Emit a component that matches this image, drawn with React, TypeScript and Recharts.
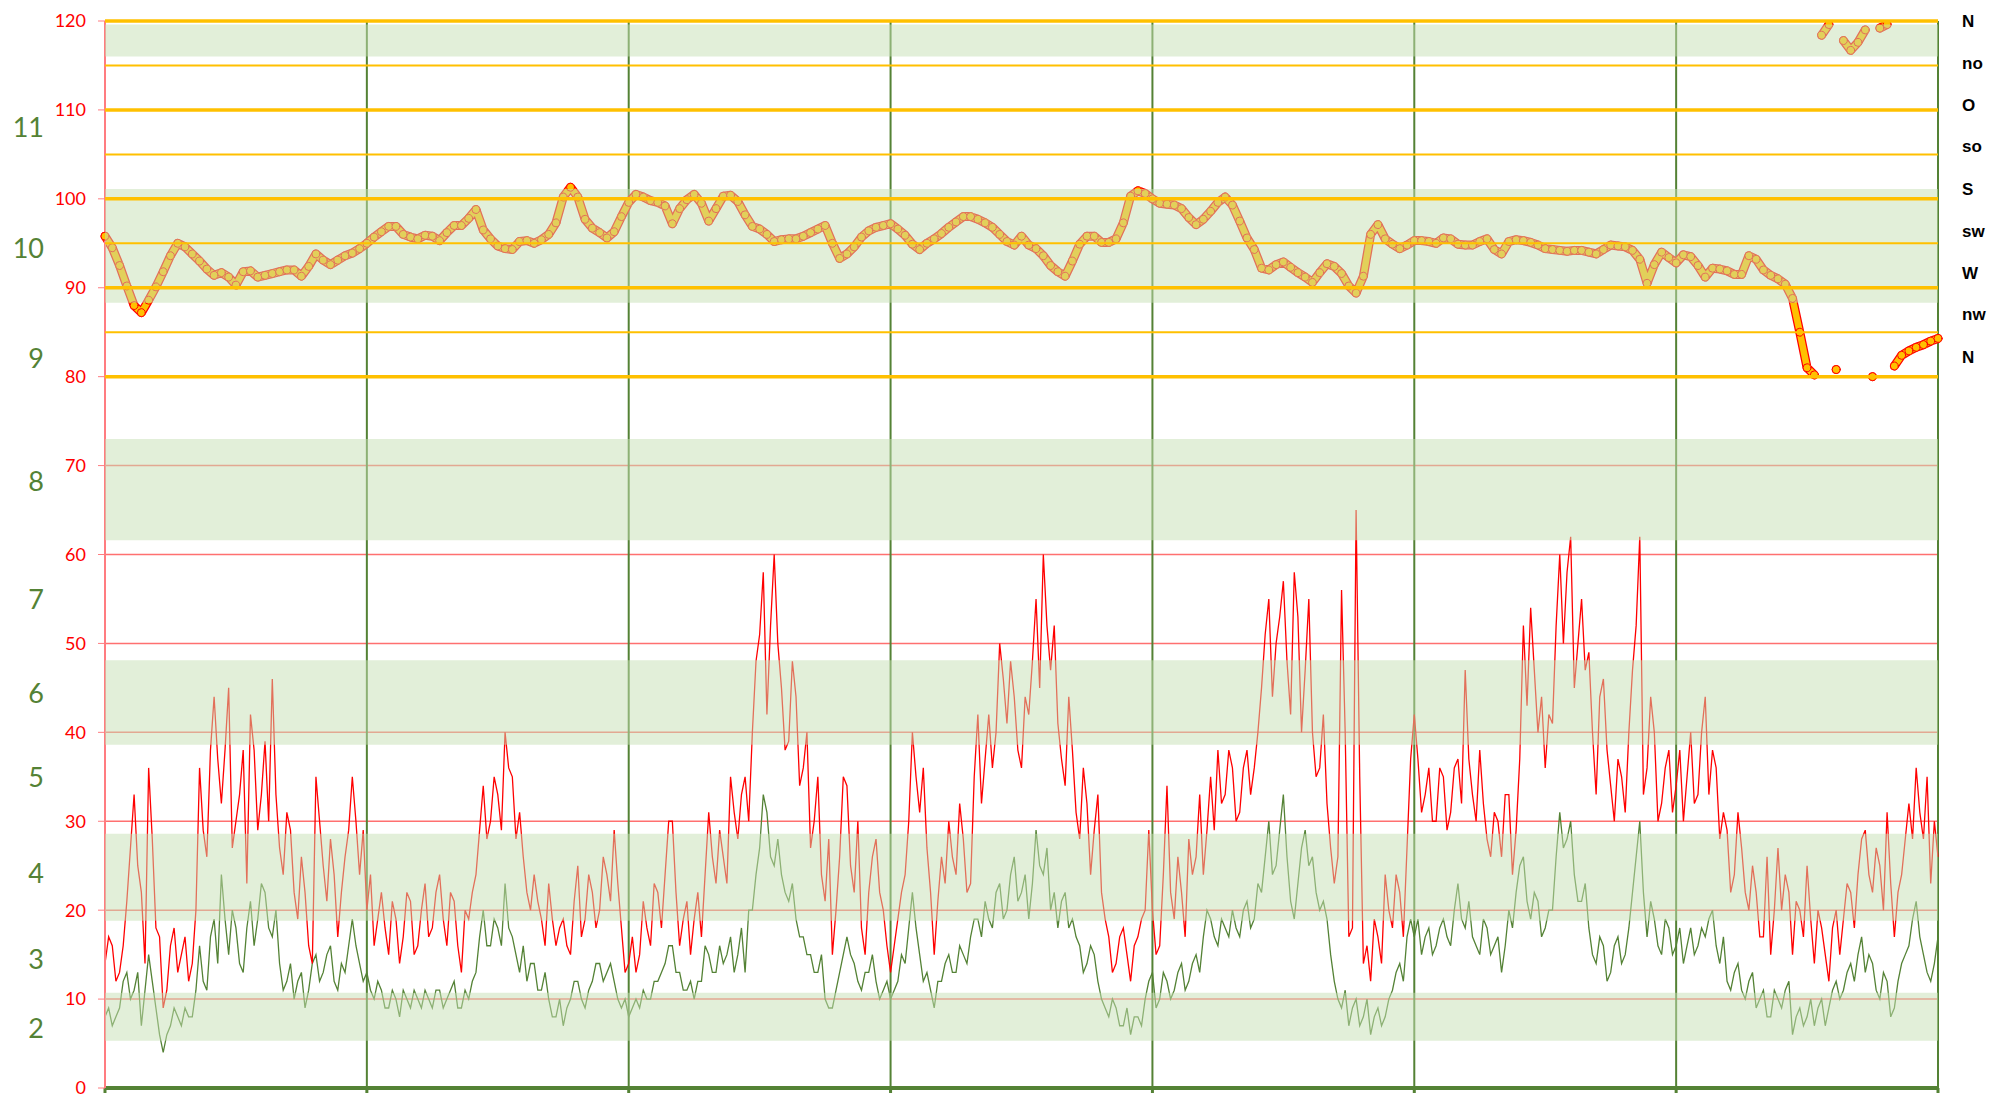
import { LineChart, Line, XAxis, YAxis, CartesianGrid, ReferenceArea, ReferenceLine } from "recharts";

// readings every 40 minutes (36 per day, 7 days) plus the readings between them
const days = [0, 1, 2, 3, 4, 5, 6, 7];

// gusts km/h at the full 40-minute marks
const gust = [
  14, 16, 13, 21, 33, 22, 36, 18, 9, 16, 13, 17, 14, 36, 26, 44, 32, 45, 30, 38, 42, 29, 39, 46, 27, 31, 22, 26, 16, 35, 25, 28, 17, 26, 35, 24,
  20, 16, 22, 15, 19, 17, 21, 16, 23, 18, 24, 16, 21, 13, 19, 24, 34, 30, 33, 40, 35, 31, 22, 24, 19, 23, 16, 19, 15, 25, 19, 22, 20, 24, 29, 18,
  14, 13, 21, 16, 22, 24, 30, 16, 21, 19, 17, 31, 23, 26, 35, 28, 35, 40, 51, 42, 60, 45, 39, 44, 36, 27, 35, 21, 15, 26, 34, 22, 18, 22, 28, 20,
  13, 19, 24, 40, 31, 27, 15, 26, 30, 24, 28, 23, 42, 37, 36, 50, 41, 44, 36, 42, 55, 60, 47, 41, 34, 38, 28, 32, 29, 22, 17, 14, 18, 12, 17, 20,
  20, 16, 34, 19, 22, 28, 26, 24, 35, 38, 33, 36, 31, 38, 36, 45, 55, 50, 57, 42, 53, 47, 40, 36, 32, 23, 56, 17, 65, 14, 12, 17, 24, 18, 22, 27,
  42, 31, 36, 30, 35, 31, 37, 47, 33, 38, 28, 31, 26, 33, 29, 52, 54, 40, 36, 41, 60, 58, 45, 55, 49, 33, 46, 34, 37, 31, 47, 62, 36, 40, 32, 38,
  34, 30, 40, 33, 44, 38, 28, 29, 24, 27, 20, 22, 17, 15, 27, 24, 15, 20, 25, 14, 18, 12, 20, 19, 22, 24, 29, 22, 25, 31, 17, 24, 32, 36, 28, 23, 26,
];

// gusts km/h 20 minutes after each mark
const gustMid = [
  17, 12, 16, 27, 25, 14, 28, 17, 11, 18, 15, 12, 20, 29, 38, 37, 38, 27, 33, 23, 38, 33, 30, 33, 24, 29, 19, 22, 14, 30, 21, 24, 22, 29, 30, 29,
  24, 19, 18, 21, 14, 22, 15, 20, 17, 22, 19, 22, 16, 20, 22, 29, 28, 35, 29, 36, 28, 26, 20, 21, 16, 19, 18, 16, 21, 17, 24, 18, 26, 21, 23, 13,
  17, 15, 18, 23, 18, 30, 22, 19, 15, 22, 24, 26, 29, 23, 31, 33, 30, 48, 58, 52, 50, 38, 48, 34, 40, 30, 24, 28, 20, 35, 25, 30, 15, 26, 22, 16,
  16, 22, 30, 35, 36, 22, 21, 23, 26, 32, 22, 35, 32, 42, 40, 46, 48, 38, 44, 48, 45, 52, 52, 37, 44, 31, 36, 24, 33, 19, 13, 17, 15, 16, 19, 29,
  15, 24, 22, 26, 17, 24, 33, 29, 29, 32, 38, 30, 36, 33, 40, 51, 44, 53, 48, 58, 40, 55, 35, 42, 27, 26, 40, 18, 35, 16, 19, 14, 20, 24, 17, 37,
  37, 33, 30, 36, 29, 36, 32, 37, 30, 32, 26, 30, 33, 24, 37, 43, 47, 44, 42, 52, 50, 62, 50, 47, 40, 44, 38, 30, 35, 40, 52, 33, 44, 30, 36, 31,
  38, 35, 32, 40, 33, 36, 31, 22, 31, 22, 25, 17, 26, 20, 20, 22, 21, 17, 19, 20, 15, 18, 15, 23, 18, 28, 24, 27, 20, 23, 22, 28, 28, 31, 35, 30,
];

// mean wind km/h at the full 40-minute marks
const wind = [
  8, 7, 9, 13, 11, 7, 15, 9, 4, 7, 8, 9, 8, 16, 11, 19, 24, 15, 18, 13, 21, 19, 22, 17, 14, 12, 10, 13, 11, 15, 13, 16, 11, 13, 19, 14,
  13, 10, 11, 9, 10, 11, 9, 10, 11, 9, 11, 10, 12, 9, 10, 13, 20, 16, 18, 23, 17, 13, 12, 14, 11, 10, 8, 7, 10, 12, 9, 12, 14, 13, 12, 9,
  8, 10, 11, 10, 12, 14, 16, 13, 11, 10, 12, 15, 13, 14, 17, 15, 13, 20, 27, 31, 25, 24, 21, 19, 17, 15, 13, 10, 9, 13, 17, 14, 11, 13, 12, 11,
  10, 12, 14, 22, 15, 13, 9, 12, 15, 13, 15, 17, 19, 21, 18, 23, 20, 26, 22, 19, 29, 24, 20, 18, 22, 19, 16, 14, 15, 10, 8, 9, 7, 6, 8, 10,
  13, 10, 12, 11, 14, 12, 15, 17, 19, 16, 18, 20, 17, 21, 19, 22, 30, 25, 33, 21, 23, 29, 26, 20, 19, 12, 9, 7, 10, 8, 6, 9, 8, 11, 14, 17,
  17, 15, 18, 16, 19, 16, 23, 18, 17, 15, 18, 16, 13, 20, 22, 26, 19, 21, 18, 20, 31, 28, 24, 21, 18, 14, 16, 13, 17, 15, 22, 30, 17, 19, 15, 18,
  16, 14, 18, 16, 17, 20, 14, 12, 13, 11, 12, 9, 11, 8, 10, 11, 6, 9, 8, 7, 10, 9, 12, 11, 14, 15, 13, 14, 10, 12, 9, 14, 16, 21, 15, 12, 17,
];

// mean wind km/h 20 minutes after each mark
const windMid = [
  9, 8, 12, 10, 13, 11, 12, 6, 6, 9, 7, 8, 11, 12, 17, 14, 19, 20, 14, 18, 16, 23, 18, 20, 11, 14, 12, 9, 14, 12, 15, 12, 14, 16, 16, 12,
  11, 12, 9, 11, 8, 10, 11, 9, 10, 11, 9, 11, 9, 11, 12, 17, 16, 19, 16, 18, 15, 16, 14, 11, 13, 8, 10, 9, 12, 10, 11, 14, 12, 14, 10, 10,
  9, 9, 10, 12, 13, 16, 13, 11, 12, 12, 16, 13, 16, 15, 13, 18, 20, 24, 33, 26, 28, 22, 23, 17, 15, 13, 15, 9, 11, 15, 15, 12, 13, 15, 10, 12,
  11, 15, 18, 18, 12, 11, 12, 14, 13, 16, 14, 19, 17, 19, 22, 19, 24, 21, 24, 23, 25, 27, 22, 21, 18, 17, 13, 16, 12, 9, 10, 7, 9, 8, 7, 12,
  9, 13, 10, 13, 11, 14, 13, 20, 17, 19, 17, 18, 20, 18, 23, 26, 24, 29, 26, 19, 27, 25, 22, 21, 15, 10, 11, 9, 7, 10, 8, 7, 10, 13, 12, 19,
  19, 17, 15, 18, 17, 20, 19, 21, 16, 19, 15, 17, 16, 18, 25, 21, 22, 17, 20, 26, 27, 30, 21, 23, 15, 17, 12, 16, 14, 18, 26, 22, 21, 16, 19, 15,
  18, 16, 15, 18, 19, 16, 17, 11, 14, 10, 13, 10, 8, 11, 9, 12, 8, 7, 10, 9, 7, 11, 10, 13, 12, 17, 15, 11, 13, 8, 12, 15, 19, 17, 13, 14,
];

// wind direction as position on the compass scale (80 = N, 90 = W, 100 = S, 110 = O, 120 = N), every 40 minutes
const dirPos = [
  95.8, 94.5, 92.5, 90.2, 88.0, 87.2, 88.6, 90.1, 91.8, 93.6,
  95.0, 94.6, 93.8, 93.0, 92.1, 91.4, 91.7, 91.2, 90.3, 91.8,
  91.9, 91.2, 91.4, 91.6, 91.8, 92.0, 92.0, 91.3, 92.4, 93.8,
  93.1, 92.6, 93.1, 93.6, 93.9, 94.4, 95.0, 95.7, 96.3, 96.9,
  96.9, 96.0, 95.7, 95.5, 95.9, 95.8, 95.3, 96.2, 97.0, 97.0,
  97.8, 98.8, 96.5, 95.5, 94.7, 94.4, 94.3, 95.2, 95.3, 95.0,
  95.4, 96.0, 97.3, 100.2, 101.3, 100.2, 97.7, 96.7, 96.2, 95.6,
  96.3, 98.0, 99.6, 100.5, 100.2, 99.8, 99.6, 99.2, 97.2, 98.9,
  99.9, 100.5, 99.5, 97.5, 98.9, 100.3, 100.4, 99.7, 98.2, 96.9,
  96.6, 96.0, 95.2, 95.4, 95.5, 95.5, 95.8, 96.2, 96.6, 97.0,
  95.0, 93.3, 93.8, 94.6, 95.7, 96.4, 96.8, 97.0, 97.2, 96.6,
  95.9, 94.9, 94.3, 95.0, 95.5, 96.1, 96.8, 97.4, 98.0, 98.0,
  97.7, 97.3, 96.8, 96.0, 95.2, 94.8, 95.8, 94.8, 94.4, 93.6,
  92.5, 91.8, 91.3, 93.0, 94.9, 95.8, 95.8, 95.1, 95.1, 95.5,
  97.3, 100.3, 100.9, 100.6, 100.0, 99.5, 99.4, 99.3, 98.9, 97.9,
  97.1, 97.7, 98.6, 99.6, 100.2, 99.3, 97.5, 95.6, 94.3, 92.2,
  92.0, 92.6, 92.9, 92.3, 91.7, 91.2, 90.6, 91.7, 92.7, 92.4,
  91.6, 90.2, 89.4, 91.3, 96.0, 97.1, 95.5, 94.9, 94.4, 94.8,
  95.3, 95.3, 95.2, 95.0, 95.6, 95.5, 94.9, 94.8, 94.8, 95.2,
  95.5, 94.3, 93.8, 95.2, 95.4, 95.3, 95.1, 94.8, 94.4, 94.3,
  94.2, 94.1, 94.2, 94.2, 94.0, 93.8, 94.3, 94.8, 94.7, 94.6,
  94.2, 93.2, 90.5, 92.6, 94.0, 93.4, 92.8, 93.7, 93.5, 92.5,
  91.2, 92.2, 92.1, 91.9, 91.5, 91.5, 93.6, 93.2, 92.0, 91.4,
  91.0, 90.4, 88.8, 85.0, 81.0, 80.2, 118.4, 119.6, 80.8, 117.8,
  116.7, 117.6, 119.0, 80.0, 119.2, 119.6, 81.2, 82.4, 82.9, 83.3,
  83.6, 84.0, 84.3,
];

const speedTicks = [0, 10, 20, 30, 40, 50, 60, 70, 80, 90, 100, 110, 120];

const beaufortLabels = ["2", "3", "4", "5", "6", "7", "8", "9", "10", "11"];
const beaufortPos = [6.75, 14.5, 24.1, 34.9, 44.4, 55.0, 68.2, 82.0, 94.4, 108.0];

const compassLabels = ["N", "no", "O", "so", "S", "sw", "W", "nw", "N"];
const compassPos = [120.0, 115.3, 110.6, 105.9, 101.1, 96.4, 91.7, 87.0, 82.2];

// light green Beaufort bands (2, 4, 6, 8, 10, 12)
const bandLow = [5.3, 18.8, 38.6, 61.6, 88.3, 116.0];
const bandHigh = [10.7, 28.6, 48.1, 73.0, 101.1, 119.6];

const dirMajor = [80, 90, 100, 110, 120];
const dirMinor = [85, 95, 105, 115];

const speedData: { t: number; gust: number; wind: number }[] = [];
gust.forEach((g, i) => {
  speedData.push({ t: i / 36, gust: g, wind: wind[i] });
  if (i < gustMid.length) speedData.push({ t: (i + 0.5) / 36, gust: gustMid[i], wind: windMid[i] });
});

// split direction where it wraps around north so no line crosses the chart
const dirData = dirPos.map((d, i) => ({
  t: i / 36,
  dirLow: d < 110 ? d : null,
  dirHigh: d >= 110 ? d : null,
}));

const SpeedTick = (props: any) => (
  <text x={78} y={props.y} dy="0.355em" textAnchor="end" fill="#FF0000" fontSize={18} fontFamily="Lato">
    {props.payload.value}
  </text>
);

const CompassTick = (props: any) => (
  <text x={1954} y={props.y} dy="0.355em" textAnchor="start" fill="#000000" fontSize={17} fontWeight={700} fontFamily="Liberation Sans">
    {compassLabels[props.index]}
  </text>
);

const dirDot = { r: 4, fill: "#FFC000", stroke: "#FF0000", strokeWidth: 1 };

export default function App() {
  return (
    <LineChart width={1983} height={1088} data={speedData} margin={{ top: 13, right: 0, left: 0, bottom: 0 }}>
      <CartesianGrid yAxisId="main" vertical={false} stroke="#FF7070" strokeWidth={1.5} />
      <CartesianGrid yAxisId="main" horizontal={false} stroke="#548235" strokeWidth={2} />
      <XAxis
        dataKey="t"
        type="number"
        domain={[0, 7]}
        ticks={days}
        height={8}
        tickSize={5}
        tickFormatter={() => ""}
        axisLine={{ stroke: "#548235", strokeWidth: 4 }}
        tickLine={{ stroke: "#548235", strokeWidth: 3 }}
      />
      <YAxis
        yAxisId="main"
        domain={[0, 120]}
        ticks={speedTicks}
        interval={0}
        width={97}
        tickSize={7}
        axisLine={{ stroke: "#FF7C80", strokeWidth: 2 }}
        tickLine={{ stroke: "#FF7C80" }}
        tick={<SpeedTick />}
      />
      <YAxis
        yAxisId="compass"
        orientation="right"
        domain={[0, 120]}
        ticks={compassPos}
        interval={0}
        width={53}
        tickSize={0}
        axisLine={false}
        tickLine={false}
        tick={<CompassTick />}
      />
      <Line yAxisId="compass" dataKey="wind" stroke="none" dot={false} activeDot={false} isAnimationActive={false} />
      <Line yAxisId="main" type="linear" dataKey="wind" stroke="#548235" strokeWidth={1.3} dot={false} activeDot={false} isAnimationActive={false} />
      <Line yAxisId="main" type="linear" dataKey="gust" stroke="#FF0000" strokeWidth={1.3} dot={false} activeDot={false} isAnimationActive={false} />
      <Line yAxisId="main" data={dirData} type="linear" dataKey="dirLow" stroke="#FF0000" strokeWidth={9} strokeLinecap="round" strokeLinejoin="round" dot={false} activeDot={false} isAnimationActive={false} />
      <Line yAxisId="main" data={dirData} type="linear" dataKey="dirHigh" stroke="#FF0000" strokeWidth={9} strokeLinecap="round" strokeLinejoin="round" dot={false} activeDot={false} isAnimationActive={false} />
      <Line yAxisId="main" data={dirData} type="linear" dataKey="dirLow" stroke="#FFC000" strokeWidth={6.5} strokeLinecap="round" strokeLinejoin="round" dot={dirDot} activeDot={false} isAnimationActive={false} />
      <Line yAxisId="main" data={dirData} type="linear" dataKey="dirHigh" stroke="#FFC000" strokeWidth={6.5} strokeLinecap="round" strokeLinejoin="round" dot={dirDot} activeDot={false} isAnimationActive={false} />
      {beaufortPos.map((v, i) => (
        <ReferenceLine
          key={"bl" + i}
          yAxisId="main"
          y={v}
          stroke="none"
          label={(p: any) => (
            <text x={36} y={p.viewBox.y} dy="0.355em" textAnchor="end" fill="#548235" fontSize={27} fontFamily="Lato">
              {beaufortLabels[i]}
            </text>
          )}
        />
      ))}
      {bandLow.map((lo, i) => (
        <ReferenceArea key={"b" + i} yAxisId="main" y1={lo} y2={bandHigh[i]} fill="#C5E0B4" fillOpacity={0.5} stroke="none" zIndex={1500} />
      ))}
      {dirMinor.map((v) => (
        <ReferenceLine key={"m" + v} yAxisId="main" y={v} stroke="#FFC000" strokeWidth={2} zIndex={1600} />
      ))}
      {dirMajor.map((v) => (
        <ReferenceLine key={"M" + v} yAxisId="main" y={v} stroke="#FFC000" strokeWidth={3.5} zIndex={1600} />
      ))}
    </LineChart>
  );
}
